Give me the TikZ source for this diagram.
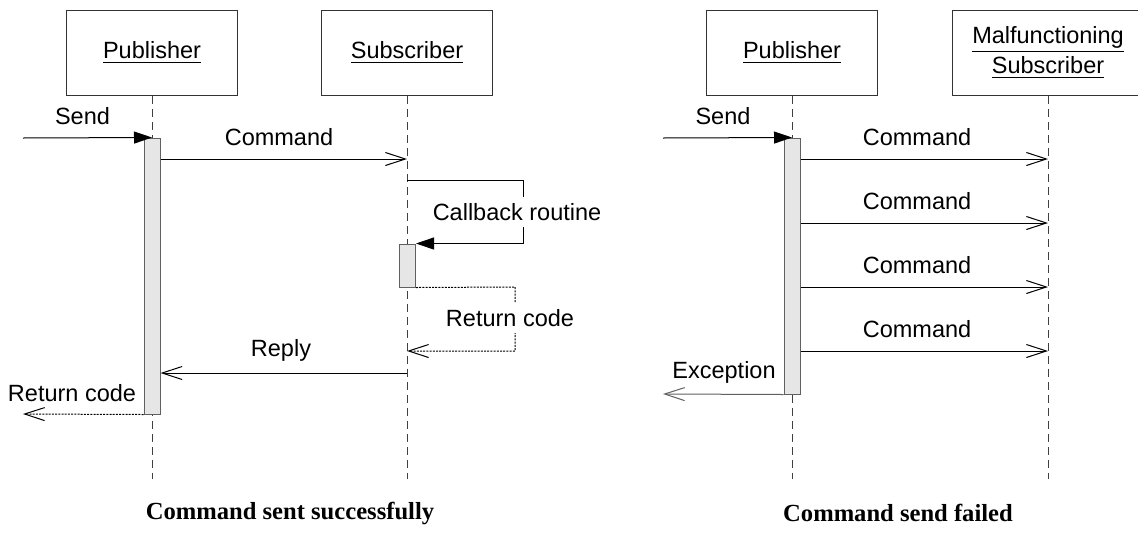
\documentclass[tikz,border=0pt]{standalone}
\usepackage{fontspec}
\setmainfont{Liberation Serif}
\setsansfont{Liberation Sans}
\usetikzlibrary{arrows.meta}
\definecolor{actfill}{HTML}{E6E6E6}
\definecolor{linegray}{HTML}{606060}
\tikzset{
	lifebox/.style={draw=black!80,line width=0.5pt,minimum width=85.5pt,minimum height=42.5pt,
		align=center,font=\sffamily\fontsize{11.75}{15}\selectfont},
	lifeline/.style={draw=black!75,line width=0.5pt,dash pattern=on 4pt off 2.5pt},
	actbox/.style={draw=linegray,fill=actfill,line width=0.5pt,minimum width=8pt,inner sep=0pt},
	lbl/.style={font=\sffamily\fontsize{11.75}{14}\selectfont,inner sep=1pt},
	msg/.style={draw=black,line width=0.5pt,-{Straight Barb[length=10pt,width=6.5pt]}},
	call/.style={draw=black,line width=0.5pt,-{Triangle[length=9pt,width=6pt]}},
	ret/.style={draw=black,line width=0.5pt,dash pattern=on 1pt off 0.6pt,
		-{Straight Barb[length=10pt,width=6.5pt]}},
	caption/.style={font=\bfseries\fontsize{12.3}{14}\selectfont}
}
\begin{document}
\begin{tikzpicture}[x=0.5pt,y=-0.5pt]
	\useasboundingbox (0,0) rectangle (1138,536);
	\clip (0,0) rectangle (1138,536);
	% left: command sent successfully
	\node[lifebox] (pubA) at (152,52.5) {\underline{Publisher}};
	\node[lifebox] (subA) at (407,52.5) {\underline{Subscriber}};
	\coordinate (pubAend) at (152,479);
	\coordinate (subAend) at (407,479);
	\draw[lifeline] (pubA) -- (pubAend);
	\draw[lifeline] (subA) -- (subAend);
	\node[actbox,minimum height=138pt] (actA) at (152,276) {};
	\node[actbox,minimum height=21.5pt] (actB) at (407.5,265.5) {};
	\coordinate (sendA) at (23,138);
	\coordinate (cmdA) at (407,159);
	\coordinate (cbA) at (407,180);
	\coordinate (cbB) at (523,180);
	\coordinate (rcA) at (515,287);
	\coordinate (rcB) at (407,351);
	\coordinate (replyA) at (407,373);
	\coordinate (retA) at (23,414);
	\draw[call] (sendA) -- (actA.north);
	\node[lbl] at (82.5,116) {Send};
	\draw[msg] (actA.east |- cmdA) -- (cmdA);
	\node[lbl] at (279,137) {Command};
	\draw[call] (cbA) -- (cbB) -- (cbB |- actB.north) -- (actB.north east);
	\node[lbl,fill=white,inner ysep=3pt] at (517,212) {Callback routine};
	\draw[ret] (actB.south east) -- (rcA) -- (rcA |- rcB) -- (rcB);
	\node[lbl,fill=white,inner ysep=3pt] at (510,318) {Return code};
	\draw[msg] (replyA) -- (actA.east |- replyA);
	\node[lbl] at (281,350) {Reply};
	\draw[ret] (actA.south west) -- (retA);
	\node[lbl] at (72,393) {Return code};
	\node[caption] at (290,513) {Command sent successfully};
	% right: command send failed
	\node[lifebox] (pubB) at (792,52.5) {\underline{Publisher}};
	\node[lifebox,minimum width=96pt] (subB) at (1048,52.5) {\underline{Malfunctioning}\\\underline{Subscriber}};
	\coordinate (pubBend) at (792,479);
	\coordinate (subBend) at (1048,479);
	\draw[lifeline] (pubB) -- (pubBend);
	\draw[lifeline] (subB) -- (subBend);
	\node[actbox,minimum height=128pt] (actC) at (792,266) {};
	\coordinate (sendB) at (663,138);
	\coordinate (excB) at (663,394);
	\draw[call] (sendB) -- (actC.north);
	\node[lbl] at (723,116) {Send};
	\foreach \y in {159,223,287,351} {
		\coordinate (cmd) at (1048,\y);
		\draw[msg] (actC.east |- cmd) -- (cmd);
		\node[lbl] at (917,\y-22) {Command};
	}
	\draw[msg,draw=linegray] (actC.south west) -- (excB);
	\node[lbl] at (724,372) {Exception};
	\node[caption] at (898,513) {Command send failed};
\end{tikzpicture}
\end{document}
